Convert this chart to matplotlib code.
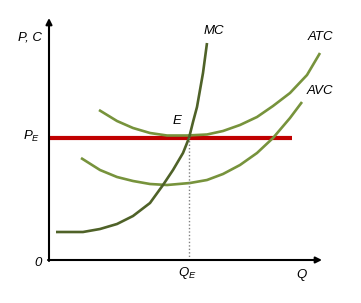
import matplotlib
matplotlib.use("Agg")
import matplotlib.pyplot as plt

# values (Q along the axis, cost upward)
mc_q = [7, 21, 34, 51, 68, 84, 101, 114, 124, 134, 140, 144, 148, 151, 154, 156, 158]
mc_c = [28, 28, 28, 31, 36, 44, 57, 75, 90, 107, 122, 138, 153, 170, 187, 202, 217]

atc_q = [50, 68, 84, 101, 118, 138, 158, 174, 191, 208, 224, 241, 258, 271]
atc_c = [150, 139, 132, 127, 124.5, 124.5, 125.5, 129, 135, 143, 154, 167, 185, 207]

avc_q = [32, 51, 68, 84, 101, 118, 141, 158, 174, 191, 208, 224, 241, 253]
avc_c = [102, 90, 83, 79, 76, 75, 77, 80, 86, 95, 107, 122, 142, 158]

p_e = 122
q_e = 140
price_end = 243
q_max = 273
c_max = 242

plt.rcParams["mathtext.fontset"] = "custom"
plt.rcParams["mathtext.it"] = "Liberation Sans:italic"
plt.rcParams["mathtext.rm"] = "Liberation Sans"

fig = plt.figure(figsize=(3.61, 3.03), dpi=100)
ax = fig.add_axes([0, 0, 1, 1])
ax.set_xlim(-49, 312)
ax.set_ylim(-43, 260)
ax.axis("off")

dark = "#4F6228"
light = "#77933C"

ax.plot([0, price_end], [p_e, p_e], color="#C00000", lw=3, solid_capstyle="butt")
ax.plot(atc_q, atc_c, color=light, lw=1.9, solid_capstyle="butt", solid_joinstyle="round")
ax.plot(avc_q, avc_c, color=light, lw=1.9, solid_capstyle="butt", solid_joinstyle="round")
ax.plot(mc_q, mc_c, color=dark, lw=1.9, solid_capstyle="butt", solid_joinstyle="round")
ax.vlines(q_e, 0, p_e, color="#808080", lw=1, linestyles=(0, (1, 1.5)))

arrow = dict(arrowstyle="-|>", lw=1.5, color="black", mutation_scale=9,
             shrinkA=0, shrinkB=0)
ax.annotate("", xy=(q_max, 0), xytext=(-1, 0), arrowprops=arrow)
ax.annotate("", xy=(0, c_max), xytext=(0, -1), arrowprops=arrow)

txt = dict(fontfamily="Liberation Sans", style="italic", fontsize=9.5,
           ha="center", va="center")
ax.text(-19, 223, "P, C", **txt)
ax.text(165, 229, "MC", **txt)
ax.text(271, 223, "ATC", **txt)
ax.text(271, 169, "AVC", **txt)
ax.text(128, 139, "E", **txt)
ax.text(-17, 124, "$P_E$", **txt)
ax.text(-11, -3, "0", **txt)
ax.text(q_e - 2, -13, "$Q_E$", **txt)
ax.text(252, -15, "Q", **txt)

fig.savefig("out.png", dpi=100)
